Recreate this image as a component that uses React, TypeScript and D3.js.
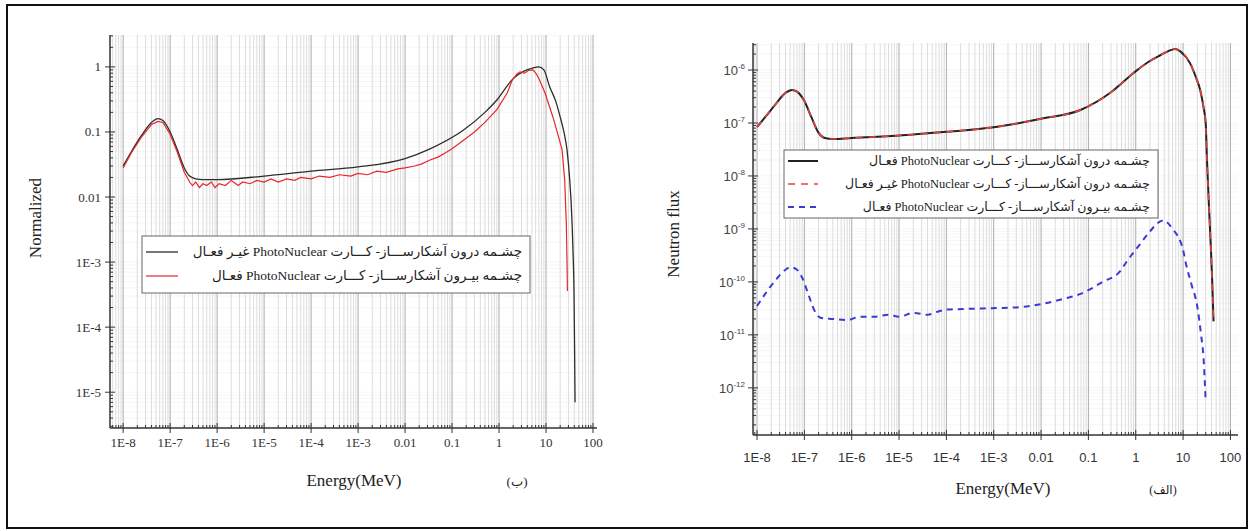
import React, { useEffect, useRef } from 'react';
import * as d3 from 'd3';

type Pt = [number, number];

// (ب) normalized spectra — [energy MeV, normalized value]
const normInsideOff: Pt[] = [
  [1e-8, 0.030], [1.5e-8, 0.05], [2.5e-8, 0.09], [4e-8, 0.14], [5.5e-8, 0.16], [7e-8, 0.15],
  [1e-7, 0.10], [1.4e-7, 0.055], [2e-7, 0.028], [2.6e-7, 0.021], [3.5e-7, 0.019], [5e-7, 0.0185],
  [1e-6, 0.0185], [1e-5, 0.021], [1e-4, 0.025], [1e-3, 0.029], [0.01, 0.039], [0.034, 0.055],
  [0.17, 0.105], [0.5, 0.2], [0.9, 0.31], [2, 0.66], [3.5, 0.87], [5, 0.95], [7, 1.0], [9, 0.9],
  [12, 0.49], [16, 0.3], [20, 0.17], [24, 0.1], [28, 0.053], [32, 0.018], [35, 0.006],
  [37.5, 0.0015], [39.5, 3e-4], [40.5, 5e-5], [41.5, 7e-6],
];
const normOutsideOn: Pt[] = [
  [1e-8, 0.028], [1.5e-8, 0.048], [2.5e-8, 0.085], [4e-8, 0.13], [5.5e-8, 0.145], [7e-8, 0.14],
  [1e-7, 0.092], [1.4e-7, 0.05], [2e-7, 0.024], [2.6e-7, 0.017], [3e-7, 0.015], [3.5e-7, 0.017],
  [4.2e-7, 0.014], [5e-7, 0.016], [6e-7, 0.015], [7.5e-7, 0.017], [9e-7, 0.014], [1.1e-6, 0.016],
  [1.5e-6, 0.015], [2e-6, 0.018], [2.8e-6, 0.015], [3.5e-6, 0.017], [5e-6, 0.016], [7e-6, 0.018],
  [1e-5, 0.017], [1.4e-5, 0.019], [2e-5, 0.017], [3e-5, 0.019], [4.5e-5, 0.018], [6e-5, 0.020],
  [1e-4, 0.019], [1.5e-4, 0.021], [2.5e-4, 0.020], [4e-4, 0.022], [7e-4, 0.021], [1e-3, 0.023],
  [1.6e-3, 0.022], [2.5e-3, 0.025], [4e-3, 0.024], [7e-3, 0.027], [0.01, 0.028], [0.016, 0.030],
  [0.022, 0.032], [0.034, 0.037], [0.05, 0.041], [0.07, 0.047], [0.1, 0.055], [0.17, 0.073],
  [0.3, 0.1], [0.5, 0.14], [0.9, 0.22], [1.5, 0.4], [1.9, 0.62], [2.4, 0.78], [2.8, 0.84],
  [3.5, 0.8], [4.2, 0.88], [5.3, 0.9], [6.2, 0.78], [6.8, 0.7], [9.5, 0.4], [14, 0.17],
  [18, 0.09], [22, 0.053], [25, 0.018], [27, 0.004], [28, 1e-3], [28.5, 3.6e-4],
];

// (الف) neutron flux — [energy MeV, flux]
const fluxInsideOn: Pt[] = [
  [1e-8, 8.4e-8], [1.5e-8, 1.3e-7], [2.5e-8, 2.3e-7], [4e-8, 3.7e-7], [5.5e-8, 4.2e-7], [7e-8, 3.9e-7],
  [1e-7, 2.6e-7], [1.4e-7, 1.3e-7], [2e-7, 6.5e-8], [2.7e-7, 5.2e-8], [4e-7, 5e-8], [1e-6, 5.2e-8],
  [1e-5, 5.8e-8], [1e-4, 6.8e-8], [1e-3, 8.3e-8], [0.01, 1.2e-7], [0.068, 1.76e-7], [0.3, 3.8e-7],
  [0.9, 8.8e-7], [1.8, 1.4e-6], [3.3, 1.9e-6], [5, 2.3e-6], [6.9, 2.5e-6], [9, 2.2e-6], [14, 1.35e-6],
  [19, 7e-7], [23, 4.2e-7], [27, 2e-7], [30, 1e-7], [32, 2e-8], [35, 3e-9], [38, 6e-10],
  [41, 1.2e-10], [44, 1.8e-11],
];
const fluxInsideOff: Pt[] = [
  [1e-8, 8.4e-8], [1.5e-8, 1.3e-7], [2.5e-8, 2.3e-7], [4e-8, 3.7e-7], [5.5e-8, 4.2e-7], [7e-8, 3.9e-7],
  [1e-7, 2.6e-7], [1.4e-7, 1.3e-7], [2e-7, 6.5e-8], [2.7e-7, 5.2e-8], [4e-7, 5e-8], [1e-6, 5.2e-8],
  [1e-5, 5.8e-8], [1e-4, 6.8e-8], [1e-3, 8.3e-8], [0.01, 1.2e-7], [0.068, 1.76e-7], [0.3, 3.8e-7],
  [0.9, 8.8e-7], [1.8, 1.4e-6], [3.3, 1.9e-6], [5, 2.3e-6], [6.9, 2.5e-6], [9, 2.2e-6], [14, 1.35e-6],
  [19, 7e-7], [23, 4.2e-7], [27, 2e-7], [30, 1e-7], [32, 2e-8], [35, 3e-9], [38, 6e-10],
  [41, 1.2e-10], [44, 1.8e-11],
];
const fluxOutsideOn: Pt[] = [
  [1e-8, 3.5e-11], [1.5e-8, 6e-11], [2.5e-8, 1.1e-10], [4e-8, 1.7e-10], [5e-8, 1.9e-10], [7e-8, 1.7e-10],
  [9e-8, 1.2e-10], [1.2e-7, 6e-11], [1.6e-7, 3e-11], [2.2e-7, 2.1e-11], [4e-7, 2e-11], [8e-7, 1.9e-11],
  [1.5e-6, 2.2e-11], [3e-6, 2.2e-11], [6e-6, 2.4e-11], [1e-5, 2.2e-11], [2e-5, 2.6e-11], [4e-5, 2.4e-11],
  [7e-5, 2.8e-11], [1e-4, 3e-11], [3e-4, 3.1e-11], [1e-3, 3.2e-11], [3e-3, 3.3e-11], [0.01, 3.8e-11],
  [0.03, 4.8e-11], [0.07, 6e-11], [0.2, 1e-10], [0.47, 1.6e-10], [0.66, 2.5e-10], [1.2, 5e-10],
  [1.8, 8e-10], [3.8, 1.45e-9], [6, 1e-9], [10, 4e-10], [11.5, 2.2e-10], [15, 9e-11], [20, 3.4e-11],
  [24, 1e-11], [27, 3.7e-12], [30, 5.7e-13],
];

const xTickExps = [-8, -7, -6, -5, -4, -3, -2, -1, 0, 1, 2];
const xTickLabels = ['1E-8', '1E-7', '1E-6', '1E-5', '1E-4', '1E-3', '0.01', '0.1', '1', '10', '100'];
const normTickExps = [0, -1, -2, -3, -4, -5];
const normTickLabels = ['1', '0.1', '0.01', '1E-3', '1E-4', '1E-5'];
const fluxTickExps = [-6, -7, -8, -9, -10, -11, -12];

const legendNorm = [
  'چشـمه درون آشکارســـاز- کـــارت PhotoNuclear غیـر فعـال',
  'چشـمه بیـرون آشکارســـاز- کـــارت PhotoNuclear فعـال',
];
const legendFlux = [
  'چشـمه درون آشکارســـاز- کـــارت PhotoNuclear فعـال',
  'چشـمه درون آشکارســـاز- کـــارت PhotoNuclear غیـر فعـال',
  'چشـمه بیـرون آشکارســـاز- کـــارت PhotoNuclear فعـال',
];

const W = 1251;
const H = 531;
const SERIF = '"Liberation Serif", "Times New Roman", "DejaVu Sans", serif';
const SANS = '"Liberation Sans", Arial, sans-serif';

type Panel = {
  x0: number; x1: number; y0: number; y1: number;
  xDom: [number, number]; yDom: [number, number];
};

function logValues(dom: [number, number]) {
  const out: { v: number; major: boolean }[] = [];
  const lo = Math.floor(Math.log10(dom[0]));
  const hi = Math.ceil(Math.log10(dom[1]));
  for (let e = lo; e <= hi; e++) {
    for (let k = 1; k <= 9; k++) {
      const v = k * Math.pow(10, e);
      if (v >= dom[0] && v <= dom[1]) out.push({ v, major: k === 1 });
    }
  }
  return out;
}

function drawFrame(svg: any, p: Panel) {
  const x = d3.scaleLog().domain(p.xDom).range([p.x0, p.x1]);
  const y = d3.scaleLog().domain(p.yDom).range([p.y1, p.y0]);
  const xs = logValues(p.xDom);
  const ys = logValues(p.yDom);

  const grid = svg.append('g');
  grid.selectAll('line.hg').data(ys).enter().append('line')
    .attr('x1', p.x0).attr('x2', p.x1)
    .attr('y1', (d: any) => y(d.v)).attr('y2', (d: any) => y(d.v))
    .attr('stroke', '#f2f2f2').attr('stroke-width', 0.7);
  grid.selectAll('line.vg').data(xs).enter().append('line')
    .attr('x1', (d: any) => x(d.v)).attr('x2', (d: any) => x(d.v))
    .attr('y1', p.y0).attr('y2', p.y1)
    .attr('stroke', (d: any) => (d.major ? '#acacac' : '#dddddd'))
    .attr('stroke-width', 1);

  const ax = svg.append('g').attr('stroke', '#333');
  ax.append('line').attr('x1', p.x0).attr('x2', p.x0).attr('y1', p.y0).attr('y2', p.y1).attr('stroke-width', 1.5);
  ax.append('line').attr('x1', p.x0).attr('x2', p.x1).attr('y1', p.y1).attr('y2', p.y1).attr('stroke-width', 1.5);
  ax.selectAll('line.yt').data(ys).enter().append('line')
    .attr('x1', (d: any) => (d.major ? p.x0 - 5 : p.x0))
    .attr('x2', (d: any) => (d.major ? p.x0 + 5 : p.x0 + 3))
    .attr('y1', (d: any) => y(d.v)).attr('y2', (d: any) => y(d.v)).attr('stroke-width', 1);
  ax.selectAll('line.xt').data(xs).enter().append('line')
    .attr('y1', (d: any) => (d.major ? p.y1 + 5 : p.y1))
    .attr('y2', (d: any) => (d.major ? p.y1 - 5 : p.y1 - 3))
    .attr('x1', (d: any) => x(d.v)).attr('x2', (d: any) => x(d.v)).attr('stroke-width', 1);
  return { x, y };
}

function drawLegend(svg: any, box: [number, number, number, number], rows: number[], texts: string[],
  styles: { color: string; dash: string | null; width: number }[], sampleW: number, fontSize: number) {
  const [bx, by, bw, bh] = box;
  const g = svg.append('g');
  g.append('rect').attr('x', bx).attr('y', by).attr('width', bw).attr('height', bh)
    .attr('fill', '#fff').attr('stroke', '#666').attr('stroke-width', 1);
  texts.forEach((t, i) => {
    const st = styles[i];
    g.append('line').attr('x1', bx + 4).attr('x2', bx + 4 + sampleW)
      .attr('y1', rows[i]).attr('y2', rows[i])
      .attr('stroke', st.color).attr('stroke-width', st.width)
      .attr('stroke-dasharray', st.dash);
    g.append('text').attr('x', bx + bw - 8).attr('y', rows[i] + 4)
      .attr('direction', 'rtl').attr('text-anchor', 'start')
      .attr('font-family', SERIF).attr('font-size', fontSize).attr('fill', '#222')
      .text(t);
  });
}

export default function App() {
  const svgRef = useRef<SVGSVGElement | null>(null);

  useEffect(() => {
    if (!svgRef.current) return;
    const svg = d3.select(svgRef.current);
    svg.selectAll('*').remove();

    svg.append('rect').attr('x', 7).attr('y', 5).attr('width', 1240).attr('height', 523)
      .attr('fill', '#fff').attr('stroke', '#111').attr('stroke-width', 2);

    // ---- left panel (ب)
    const L: Panel = { x0: 110, x1: 597, y0: 35, y1: 428, xDom: [Math.pow(10, -8.28), Math.pow(10, 2.085)], yDom: [Math.pow(10, -5.55), Math.pow(10, 0.49)] };
    const ls = drawFrame(svg, L);
    const lineL = d3.line<Pt>().x(d => ls.x(d[0])).y(d => ls.y(d[1]));
    svg.append('path').attr('d', lineL.curve(d3.curveMonotoneX)(normInsideOff) as string)
      .attr('fill', 'none').attr('stroke', '#2d2d2d').attr('stroke-width', 1.3);
    svg.append('path').attr('d', lineL.curve(d3.curveLinear)(normOutsideOn) as string)
      .attr('fill', 'none').attr('stroke', '#e8262b').attr('stroke-width', 1.2);

    svg.append('g').selectAll('text').data(xTickExps).enter().append('text')
      .attr('x', d => ls.x(Math.pow(10, d))).attr('y', 447).attr('text-anchor', 'middle')
      .attr('font-family', SERIF).attr('font-size', 13).attr('fill', '#333')
      .text((d, i) => xTickLabels[i]);
    svg.append('g').selectAll('text').data(normTickExps).enter().append('text')
      .attr('x', 101).attr('y', d => ls.y(Math.pow(10, d)) + 4.5).attr('text-anchor', 'end')
      .attr('font-family', SERIF).attr('font-size', 13).attr('fill', '#333')
      .text((d, i) => normTickLabels[i]);
    svg.append('text').attr('x', 354).attr('y', 486).attr('text-anchor', 'middle')
      .attr('font-family', SERIF).attr('font-size', 17).attr('fill', '#222').text('Energy(MeV)');
    svg.append('text').attr('x', 517).attr('y', 486).attr('text-anchor', 'middle')
      .attr('font-family', SERIF).attr('font-size', 13).attr('fill', '#222').text('(ب)');
    svg.append('text').attr('transform', 'translate(41,218) rotate(-90)').attr('text-anchor', 'middle')
      .attr('font-family', SERIF).attr('font-size', 17).attr('fill', '#222').text('Normalized');

    drawLegend(svg, [142, 236, 388, 57], [252, 276], legendNorm,
      [{ color: '#2d2d2d', dash: null, width: 1.3 }, { color: '#e8262b', dash: null, width: 1.2 }], 32, 13.5);

    // ---- right panel (الف)
    const R: Panel = { x0: 753, x1: 1238, y0: 43, y1: 435, xDom: [Math.pow(10, -8.085), Math.pow(10, 2.16)], yDom: [Math.pow(10, -12.89), Math.pow(10, -5.49)] };
    const rs = drawFrame(svg, R);
    const lineR = d3.line<Pt>().x(d => rs.x(d[0])).y(d => rs.y(d[1])).curve(d3.curveMonotoneX);
    svg.append('path').attr('d', lineR(fluxInsideOn) as string)
      .attr('fill', 'none').attr('stroke', '#222').attr('stroke-width', 2);
    svg.append('path').attr('d', lineR(fluxInsideOff) as string)
      .attr('fill', 'none').attr('stroke', '#e0443c').attr('stroke-width', 1.6).attr('stroke-dasharray', '7,6');
    svg.append('path').attr('d', lineR(fluxOutsideOn) as string)
      .attr('fill', 'none').attr('stroke', '#3b3bd0').attr('stroke-width', 2).attr('stroke-dasharray', '6,5');

    svg.append('g').selectAll('text').data(xTickExps).enter().append('text')
      .attr('x', d => rs.x(Math.pow(10, d))).attr('y', 462).attr('text-anchor', 'middle')
      .attr('font-family', SANS).attr('font-size', 13).attr('fill', '#333')
      .text((d, i) => xTickLabels[i]);
    const yl = svg.append('g').selectAll('text').data(fluxTickExps).enter().append('text')
      .attr('x', 745).attr('y', d => rs.y(Math.pow(10, d)) + 5).attr('text-anchor', 'end')
      .attr('font-family', SANS).attr('font-size', 13).attr('fill', '#444');
    yl.append('tspan').text('10');
    yl.append('tspan').attr('dy', -6).attr('font-size', 8).text(d => String(d));
    svg.append('text').attr('x', 1003).attr('y', 494).attr('text-anchor', 'middle')
      .attr('font-family', SERIF).attr('font-size', 17).attr('fill', '#222').text('Energy(MeV)');
    svg.append('text').attr('x', 1163).attr('y', 494).attr('text-anchor', 'middle')
      .attr('font-family', SERIF).attr('font-size', 12).attr('fill', '#222').text('(الف)');
    svg.append('text').attr('transform', 'translate(679,234) rotate(-90)').attr('text-anchor', 'middle')
      .attr('font-family', SERIF).attr('font-size', 17).attr('fill', '#222').text('Neutron flux');

    drawLegend(svg, [784, 150, 374, 68], [161, 184, 207], legendFlux,
      [{ color: '#222', dash: null, width: 2 }, { color: '#e0443c', dash: '7,6', width: 1.6 },
       { color: '#3b3bd0', dash: '6,5', width: 2 }], 30, 12.5);
  }, []);

  return (
    <svg ref={svgRef} width={W} height={H} viewBox={`0 0 ${W} ${H}`}
      style={{ position: 'absolute', left: 0, top: 0, background: '#fff' }} />
  );
}
